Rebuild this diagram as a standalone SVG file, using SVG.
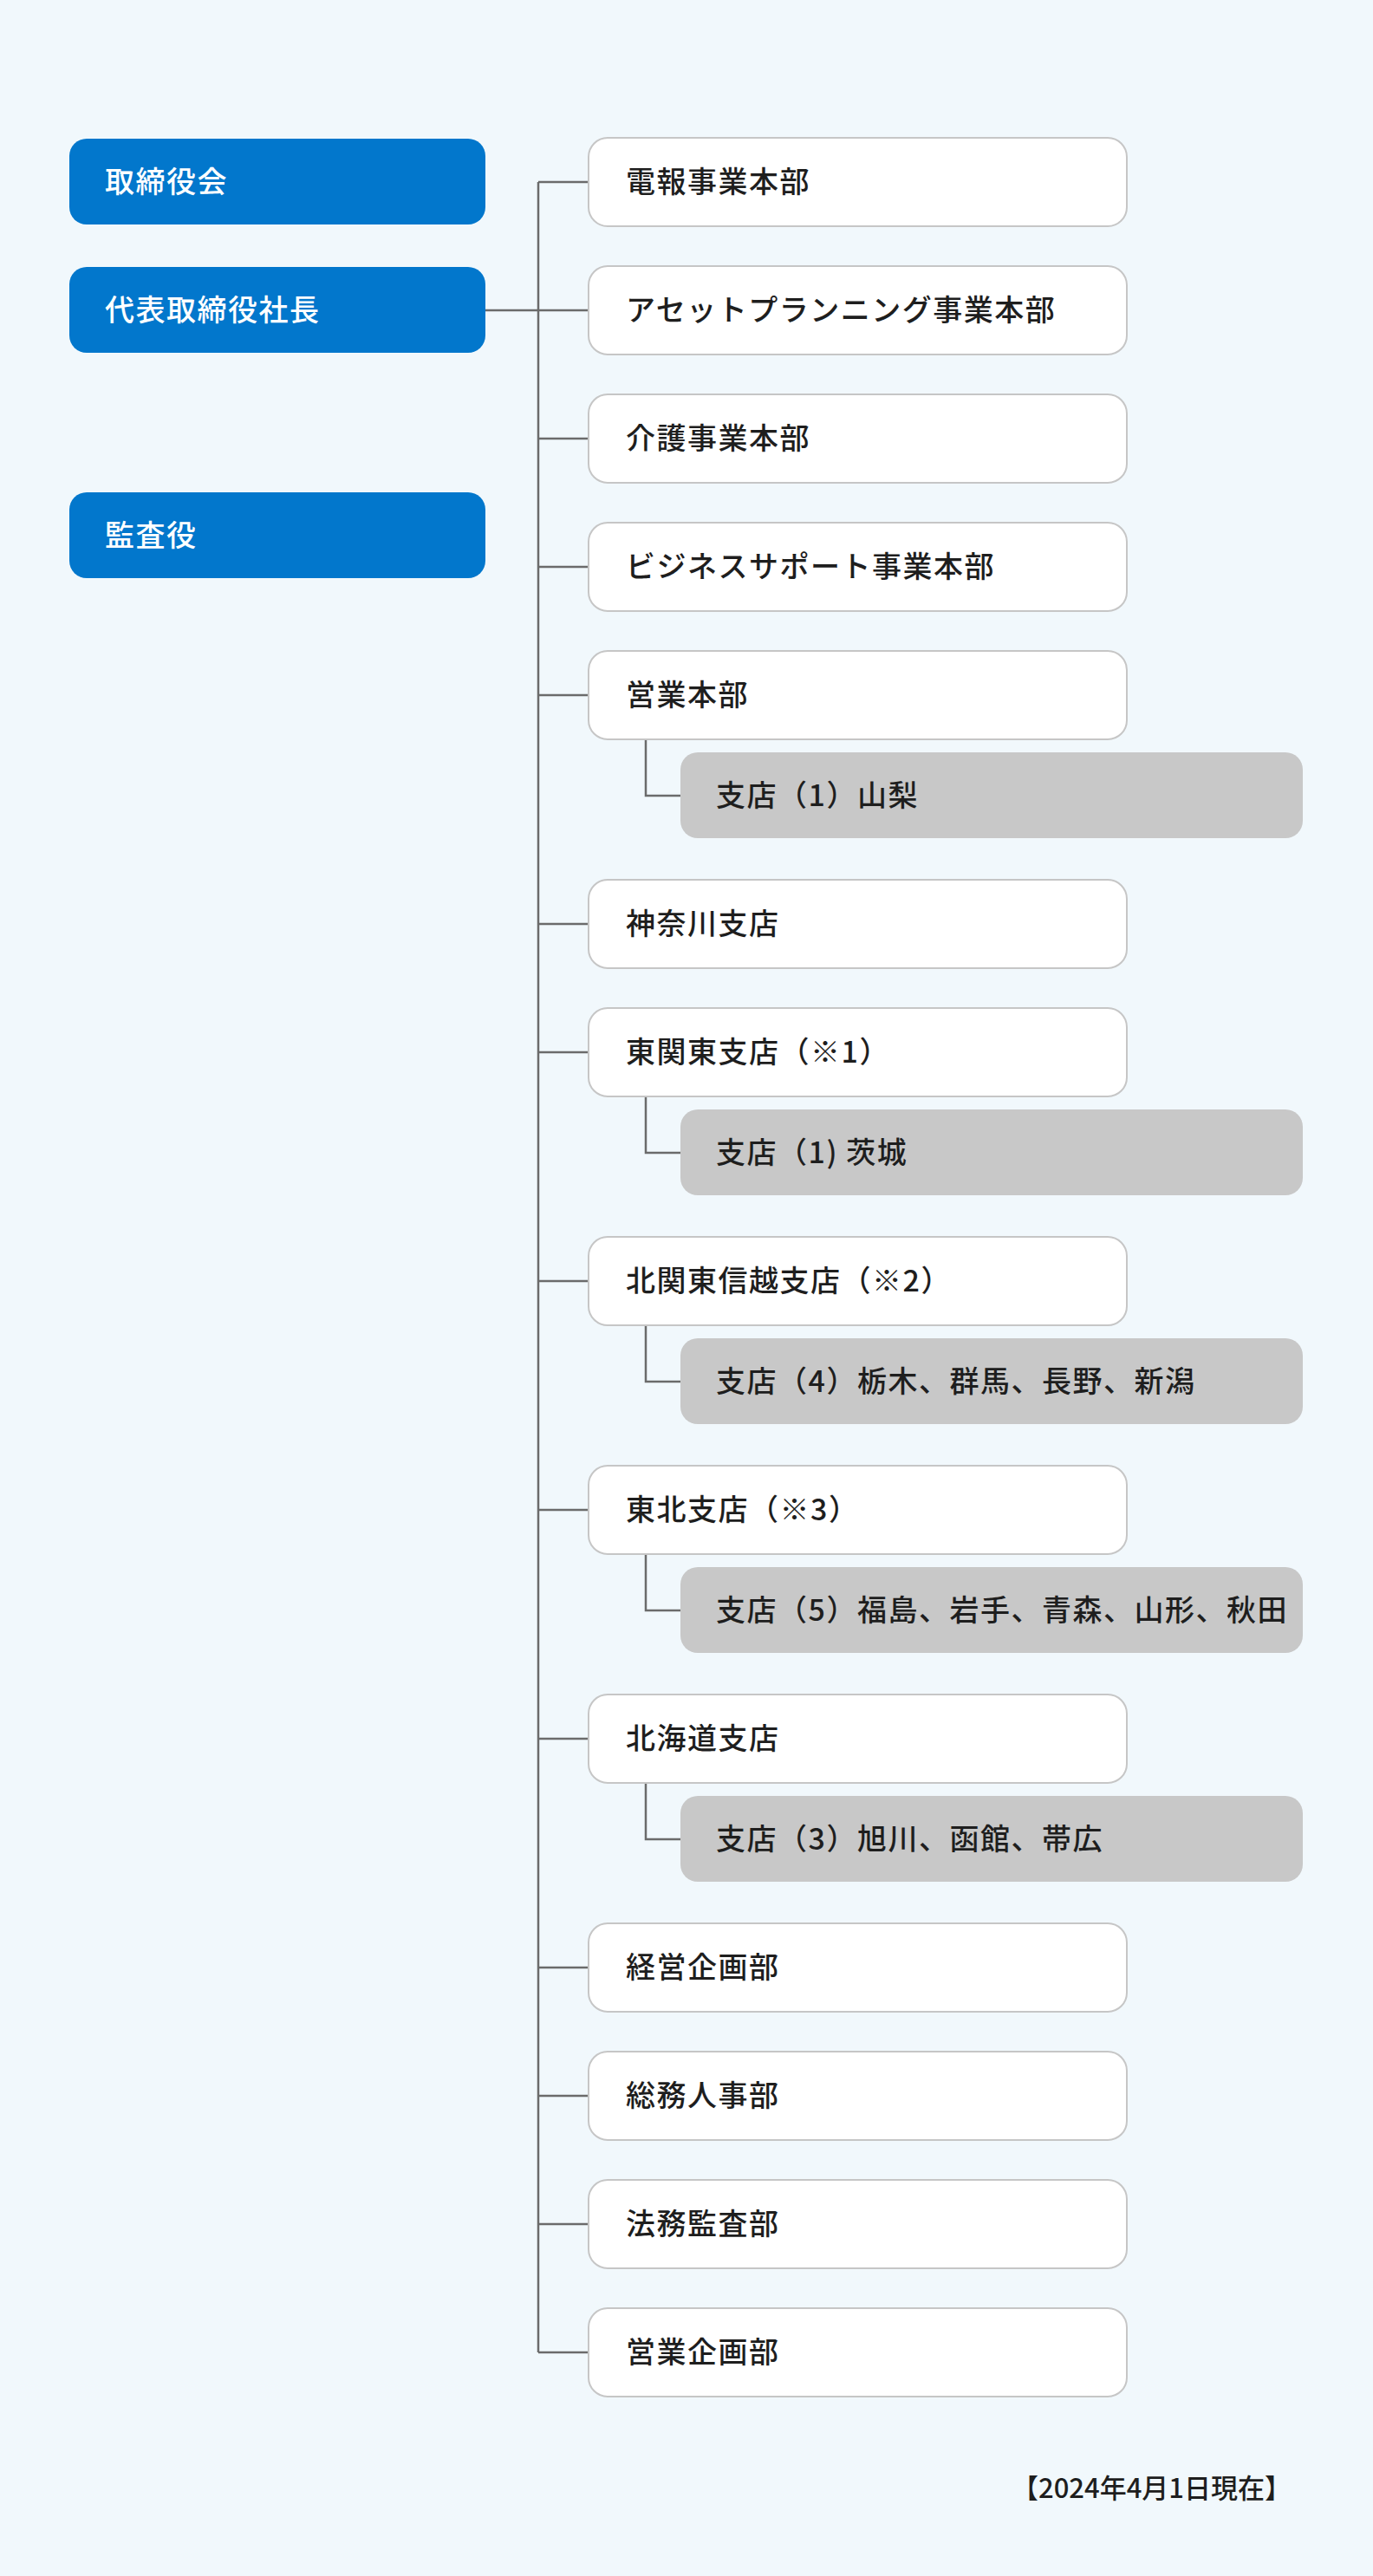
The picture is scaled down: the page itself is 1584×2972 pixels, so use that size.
<svg xmlns="http://www.w3.org/2000/svg" width="1584" height="2972" viewBox="0 0 1584 2972">
<style>
.bg{fill:#f1f8fc}
.b{fill:#0277cc}
.w{fill:#fff;stroke:#c6c6c6;stroke-width:2}
.g{fill:#c8c8c8}
.t{font-family:"Noto Sans CJK JP","Noto Sans",sans-serif;font-size:34px;font-weight:500;fill:#1e1e1e;letter-spacing:1.5px}
.tw{fill:#fff}
.c{fill:none;stroke:#6b6b6b;stroke-width:2.5}
</style>
<rect class="bg" width="1584" height="2972"/>
<g id="connectors">
<path class="c" d="M621 210V2714M560 358H679M621 210H679M621 506H679M621 654H679M621 802H679M621 1066H679M621 1214H679M621 1478H679M621 1742H679M621 2006H679M621 2270H679M621 2418H679M621 2566H679M621 2714H679"/>
<path class="c" d="M745 853V918H785M745 1265V1330H785M745 1529V1594H785M745 1793V1858H785M745 2057V2122H785"/>
</g>
<g id="n-board"><rect class="b" x="80" y="160" width="480" height="99" rx="20"/><text class="t tw" x="121" y="222">取締役会</text></g>
<g id="n-ceo"><rect class="b" x="80" y="308" width="480" height="99" rx="20"/><text class="t tw" x="121" y="370">代表取締役社長</text></g>
<g id="n-audit"><rect class="b" x="80" y="568" width="480" height="99" rx="20"/><text class="t tw" x="121" y="630">監査役</text></g>
<g id="n1"><rect class="w" x="679" y="159" width="621" height="102" rx="22"/><text class="t" x="722" y="222">電報事業本部</text></g>
<g id="n2"><rect class="w" x="679" y="307" width="621" height="102" rx="22"/><text class="t" x="722" y="370">アセットプランニング事業本部</text></g>
<g id="n3"><rect class="w" x="679" y="455" width="621" height="102" rx="22"/><text class="t" x="722" y="518">介護事業本部</text></g>
<g id="n4"><rect class="w" x="679" y="603" width="621" height="102" rx="22"/><text class="t" x="722" y="666">ビジネスサポート事業本部</text></g>
<g id="n5"><rect class="w" x="679" y="751" width="621" height="102" rx="22"/><text class="t" x="722" y="814">営業本部</text></g>
<g id="g5"><rect class="g" x="785" y="868" width="718" height="99" rx="20"/><text class="t" x="826" y="930">支店（1）山梨</text></g>
<g id="n6"><rect class="w" x="679" y="1015" width="621" height="102" rx="22"/><text class="t" x="722" y="1078">神奈川支店</text></g>
<g id="n7"><rect class="w" x="679" y="1163" width="621" height="102" rx="22"/><text class="t" x="722" y="1226">東関東支店（※1）</text></g>
<g id="g7"><rect class="g" x="785" y="1280" width="718" height="99" rx="20"/><text class="t" x="826" y="1342">支店（1) 茨城</text></g>
<g id="n8"><rect class="w" x="679" y="1427" width="621" height="102" rx="22"/><text class="t" x="722" y="1490">北関東信越支店（※2）</text></g>
<g id="g8"><rect class="g" x="785" y="1544" width="718" height="99" rx="20"/><text class="t" x="826" y="1606">支店（4）栃木、群馬、長野、新潟</text></g>
<g id="n9"><rect class="w" x="679" y="1691" width="621" height="102" rx="22"/><text class="t" x="722" y="1754">東北支店（※3）</text></g>
<g id="g9"><rect class="g" x="785" y="1808" width="718" height="99" rx="20"/><text class="t" x="826" y="1870">支店（5）福島、岩手、青森、山形、秋田</text></g>
<g id="n10"><rect class="w" x="679" y="1955" width="621" height="102" rx="22"/><text class="t" x="722" y="2018">北海道支店</text></g>
<g id="g10"><rect class="g" x="785" y="2072" width="718" height="99" rx="20"/><text class="t" x="826" y="2134">支店（3）旭川、函館、帯広</text></g>
<g id="n11"><rect class="w" x="679" y="2219" width="621" height="102" rx="22"/><text class="t" x="722" y="2282">経営企画部</text></g>
<g id="n12"><rect class="w" x="679" y="2367" width="621" height="102" rx="22"/><text class="t" x="722" y="2430">総務人事部</text></g>
<g id="n13"><rect class="w" x="679" y="2515" width="621" height="102" rx="22"/><text class="t" x="722" y="2578">法務監査部</text></g>
<g id="n14"><rect class="w" x="679" y="2663" width="621" height="102" rx="22"/><text class="t" x="722" y="2726">営業企画部</text></g>
<text class="t" style="font-size:31px;letter-spacing:0" x="1490" y="2882" text-anchor="end">【2024年4月1日現在】</text>
</svg>
